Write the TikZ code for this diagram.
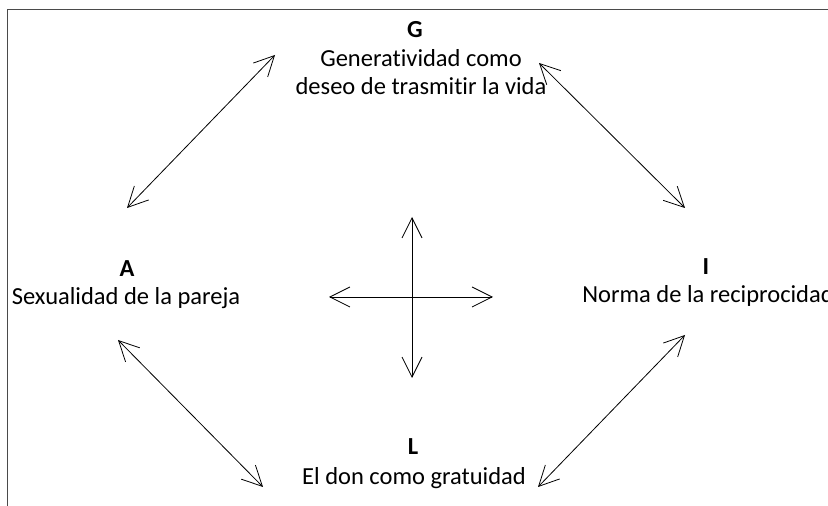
\documentclass[tikz,border=0pt]{standalone}
\usepackage{fontspec}
\setmainfont{Carlito}[Ligatures={NoCommon,NoRequired,NoContextual}]
\definecolor{framegray}{HTML}{4A4A4A}
\usepackage{tikz}
\usetikzlibrary{arrows.meta, positioning}

\begin{document}
\begin{tikzpicture}[x=1pt, y=1pt,
    lbl/.style={font=\fontsize{24.5}{28}\selectfont\bfseries, inner sep=0pt, anchor=base},
    txt/.style={font=\fontsize{24.5}{28}\selectfont, inner sep=0pt, anchor=base},
    link/.style={{Straight Barb[length=20pt, width=20pt]}-{Straight Barb[length=20pt, width=20pt]}, line width=0.8pt}]
  \useasboundingbox (0,0) rectangle (828,506);
  % Frame (open at right and bottom)
  \draw[framegray, line width=1.6pt] (7.5,-5) |- (845,496.5);
  % Labels
  \node[lbl] (G) at (415,468) {G};
  \node[txt] (Gt1) at (421,439) {Generatividad como};
  \node[txt] (Gt2) at (421,411) {deseo de trasmitir la vida};
  \node[lbl] (A) at (127,229) {A};
  \node[txt] (At) at (126,201) {Sexualidad de la pareja};
  \node[lbl] (I) at (706,231) {I};
  \node[txt] (It) at (708,203) {Norma de la reciprocidad};
  \node[lbl] (L) at (413,51) {L};
  \node[txt] (Lt) at (414,21) {El don como gratuidad};
  % Arrow ends
  \coordinate (g-a) at (275,451);
  \coordinate (a-g) at (127,298);
  \coordinate (g-i) at (539,443);
  \coordinate (i-g) at (685,298);
  \coordinate (a-l) at (118,166);
  \coordinate (l-a) at (263,19);
  \coordinate (l-i) at (538,19);
  \coordinate (i-l) at (685,171);
  \coordinate (c) at (412,209);
  % Double arrows between the four corners
  \draw[link] (g-a) -- (a-g);
  \draw[link] (g-i) -- (i-g);
  \draw[link] (a-l) -- (l-a);
  \draw[link] (l-i) -- (i-l);
  % Cross in the middle
  \draw[link] ([yshift=80pt]c) -- ([yshift=-81pt]c);
  \draw[link] ([xshift=-83pt]c) -- ([xshift=81pt]c);
\end{tikzpicture}
\end{document}
